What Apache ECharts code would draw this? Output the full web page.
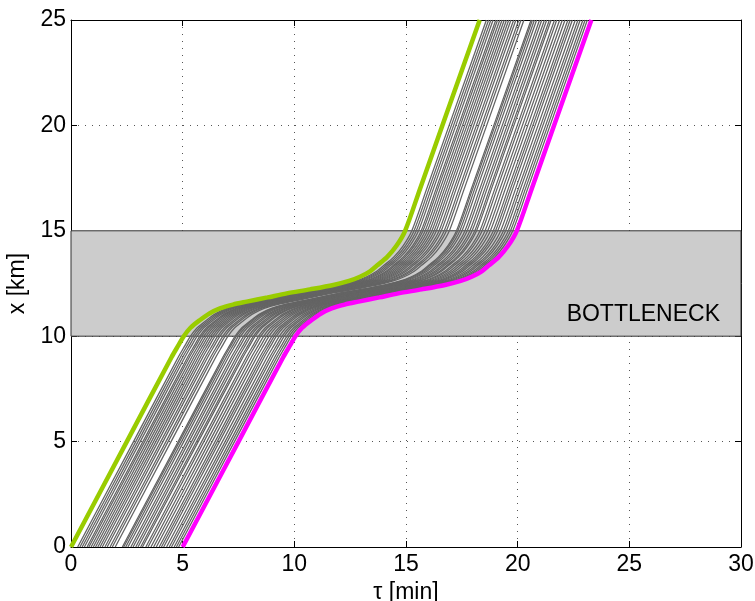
<!DOCTYPE html>
<html>
<head>
<meta charset="utf-8">
<script src="https://cdn.jsdelivr.net/npm/echarts@6/dist/echarts.min.js"></script>
<style>
html,body{margin:0;padding:0;background:#fff;overflow:hidden;}
#chart{width:755px;height:601px;}
</style>
</head>
<body>
<div id="chart"></div>
<script>
// Shape of the earliest (green) trajectory: time [min] and position [km]
var profileTau = [0, 2.5, 4.5, 4.8, 5.05, 5.35, 5.78, 6.2, 6.67, 7.25, 7.87, 8.8, 9.66, 10.7, 11.75, 12.45, 12.94, 13.39, 13.7, 14.15, 14.58, 14.96, 15.63, 18.3];
var profileX   = [0, 5.0, 9.0, 9.55, 10.0, 10.4, 10.77, 11.08, 11.32, 11.5, 11.64, 11.84, 12.03, 12.22, 12.43, 12.62, 12.82, 13.08, 13.35, 13.75, 14.3, 15.0, 17.0, 25];
// Departure offsets (min) of the grey trajectories
var greyOffsets = [0.3, 0.4, 0.5, 0.6, 0.72, 0.8, 0.9, 1.0, 1.1, 1.2, 1.3, 1.4, 1.52, 1.62, 1.75, 1.85, 1.98, 2.3, 2.36, 2.45, 2.55, 2.68, 2.78, 2.9, 3.0, 3.12, 3.2, 3.35, 3.45, 3.58, 3.7, 3.82, 3.95, 4.05, 4.15, 4.28, 4.4, 4.5, 4.62, 4.72, 4.82];
var firstOffset = 0;   // green
var lastOffset = 5;    // magenta
var bottleneck = [10, 15];

function traj(off) {
  var d = [];
  for (var i = 0; i < profileTau.length; i++) d.push([profileTau[i] + off, profileX[i]]);
  return d;
}
var series = [];
series.push({
  type: 'line', data: [], silent: true,
  markArea: { silent: true, itemStyle: { color: '#cccccc', borderColor: '#333', borderWidth: 1 },
    data: [[{ yAxis: bottleneck[0] }, { yAxis: bottleneck[1] }]] }, z: 1
});
greyOffsets.forEach(function (o) {
  series.push({ type: 'line', data: traj(o), showSymbol: false, smooth: 0.3,
    lineStyle: { color: '#646464', width: 1.3 }, silent: true, z: 2 });
});
series.push({ type: 'line', data: traj(firstOffset), showSymbol: false, smooth: 0.3,
  lineStyle: { color: '#99cc00', width: 4.5 }, silent: true, z: 3 });
series.push({ type: 'line', data: traj(lastOffset), showSymbol: false, smooth: 0.3,
  lineStyle: { color: '#ff00ff', width: 4.5 }, silent: true, z: 3 });

var font = 'Liberation Sans, Arial, Helvetica, sans-serif';
var chart = echarts.init(document.getElementById('chart'), null, { renderer: 'canvas' });
chart.setOption({
  animation: false,
  backgroundColor: '#fff',
  grid: { left: 71, right: 14, top: 20, bottom: 54, containLabel: false, outerBoundsMode: 'none' },
  xAxis: [{
    type: 'value', min: 0, max: 30, interval: 5, position: 'bottom',
    name: 'τ [min]', nameLocation: 'middle', nameGap: 27,
    nameTextStyle: { fontSize: 23, color: '#000', fontFamily: font },
    axisLine: { show: true, onZero: false, lineStyle: { color: '#000', width: 1 } },
    axisTick: { inside: true, length: 6, lineStyle: { color: '#000' } },
    axisLabel: { fontSize: 23, color: '#000', fontFamily: font, margin: 6 },
    splitLine: { show: true, lineStyle: { color: '#555', type: [1, 6], width: 1 } }
  }, {
    type: 'value', min: 0, max: 30, interval: 5, position: 'top',
    axisLine: { show: true, onZero: false, lineStyle: { color: '#000', width: 1 } },
    axisTick: { inside: true, length: 6, lineStyle: { color: '#000' } },
    axisLabel: { show: false }, splitLine: { show: false }
  }],
  yAxis: [{
    type: 'value', min: 0, max: 25, interval: 5, position: 'left',
    name: 'x [km]', nameLocation: 'middle', nameGap: 39, nameRotate: 90,
    nameTextStyle: { fontSize: 23, color: '#000', fontFamily: font },
    axisLine: { show: true, onZero: false, lineStyle: { color: '#000', width: 1 } },
    axisTick: { inside: true, length: 6, lineStyle: { color: '#000' } },
    axisLabel: { fontSize: 23, color: '#000', fontFamily: font, margin: 5 },
    splitLine: { show: true, lineStyle: { color: '#555', type: [1, 6], width: 1 } }
  }, {
    type: 'value', min: 0, max: 25, interval: 5, position: 'right',
    axisLine: { show: true, onZero: false, lineStyle: { color: '#000', width: 1 } },
    axisTick: { inside: true, length: 6, lineStyle: { color: '#000' } },
    axisLabel: { show: false }, splitLine: { show: false }
  }],
  graphic: [{
    type: 'text', right: 35, top: 303, z: 10,
    style: { text: 'BOTTLENECK', fontSize: 23, fill: '#000', fontFamily: font }
  }],
  series: series
});
</script>
</body>
</html>
